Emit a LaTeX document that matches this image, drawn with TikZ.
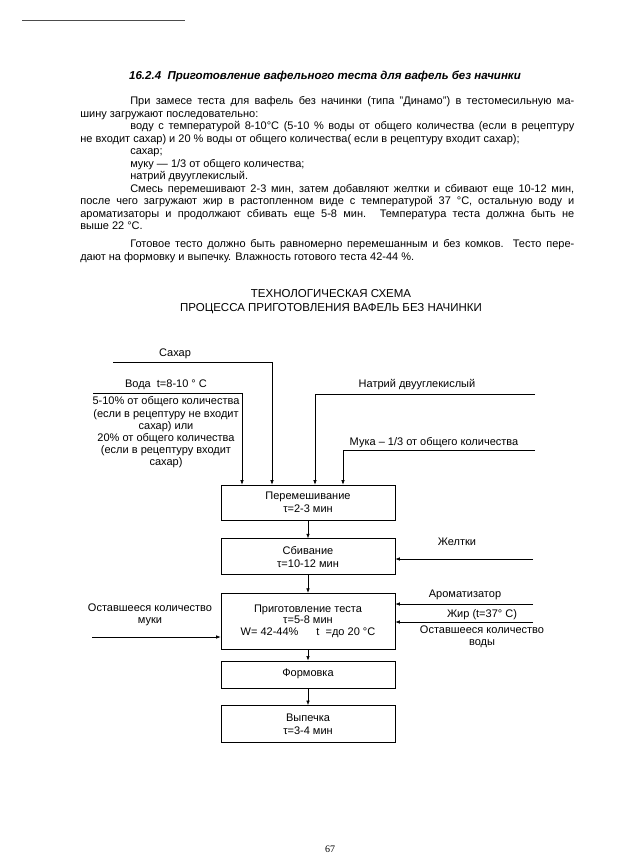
\documentclass[tikz,border=0pt]{standalone}
\usepackage{fontspec}
\setmainfont{Liberation Sans}
\newfontfamily\pagenumfont{Liberation Serif}
\usetikzlibrary{arrows.meta, positioning}

\begin{document}
\begin{tikzpicture}[
  x=1pt, y=-1pt,
  node distance=18pt,
  line width=0.6pt,
  body/.style={inner sep=0pt, anchor=base west, font=\fontsize{11}{12.5}\selectfont},
  lbl/.style={inner sep=0pt, align=center, font=\fontsize{11}{12.2}\selectfont},
  stage/.style={draw, align=center, font=\fontsize{11}{13}\selectfont,
                minimum width=174pt, inner sep=1pt},
  arr/.style={-{Latex[length=4.5pt, width=3.5pt]}}]
\useasboundingbox (0,0) rectangle (623,857);
\draw[line width=1pt, black!70] (22,20) -- (185,20);

% heading and text
\node[font=\fontsize{11.5}{13}\selectfont\bfseries\itshape] (head) at (325,76)
  {16.2.4\ \ Приготовление вафельного теста для вафель без начинки};
\node[body] (p1) at (130,104.5) {\makebox[444pt][s]{При замесе теста для вафель без начинки (типа "Динамо") в тестомесильную ма-}};
\node[body] (p2) at (80,117) {шину загружают последовательно:};
\node[body] (p3) at (130,129.5) {\makebox[444pt][s]{воду с температурой 8-10°C (5-10 \% воды от общего количества (если в рецептуру}};
\node[body] (p4) at (80,142) {не входит сахар) и 20 \% воды от общего количества( если в рецептуру входит сахар);};
\node[body] (p5) at (130,154.5) {сахар;};
\node[body] (p6) at (130,167) {муку — 1/3 от общего количества;};
\node[body] (p7) at (130,179.5) {натрий двууглекислый.};
\node[body] (p8) at (130,192) {\makebox[444pt][s]{Смесь перемешивают 2-3 мин, затем добавляют желтки и сбивают еще 10-12 мин,}};
\node[body] (p9) at (80,204.5) {\makebox[494pt][s]{после чего загружают жир в растопленном виде с температурой 37 °C, остальную воду и}};
\node[body] (p10) at (80,217) {\makebox[494pt][s]{ароматизаторы и продолжают сбивать еще 5-8 мин. Температура теста должна быть не}};
\node[body] (p11) at (80,229.5) {выше 22 °C.};
\node[body] (p12) at (130,247.5) {\makebox[444pt][s]{Готовое тесто должно быть равномерно перемешанным и без комков. Тесто пере-}};
\node[body] (p13) at (80,260) {дают на формовку и выпечку. Влажность готового теста 42-44 \%.};

% scheme
\node[align=center, font=\fontsize{11.5}{14}\selectfont] (title) at (331,301.5)
  {ТЕХНОЛОГИЧЕСКАЯ СХЕМА\\ПРОЦЕССА ПРИГОТОВЛЕНИЯ ВАФЕЛЬ БЕЗ НАЧИНКИ};

\node[stage, minimum height=35pt] (mix) at (308,502.5) {Перемешивание\\τ=2-3 мин};
\node[stage, minimum height=36pt, below=of mix] (whip) {Сбивание\\τ=10-12 мин};
\node[stage, minimum height=56pt, below=of whip, font=\fontsize{11}{11.8}\selectfont] (prep)
  {Приготовление теста\\τ=5-8 мин\\W= 42-44\%\hspace{18pt}t\ \ =до 20 °C};
\node[stage, minimum height=27pt, below=11pt of prep] (form) {Формовка};
\node[stage, minimum height=37pt, below=17pt of form] (bake) {Выпечка\\τ=3-4 мин};

\draw[arr] (mix) -- (whip);
\draw[arr] (whip) -- (prep);
\draw[arr] (prep) -- (form);
\draw[arr] (form) -- (bake);

% inputs
\coordinate (sugarS) at (113,362);
\coordinate (waterS) at (93,393);
\coordinate (sodaS) at (535,394);
\coordinate (flourS) at (535,450);
\coordinate (yolkS) at (533,559);
\coordinate (aromaS) at (533,604);
\coordinate (fatS) at (533,622);
\coordinate (restS) at (92,637);

\node[lbl] (sugar) at (175,354) {Сахар};
\node[lbl] (water) at (166,385) {Вода\ \ t=8-10 ° C};
\node[lbl] (waternote) at (166,432.5) {5-10\% от общего количества\\(если в рецептуру не входит\\сахар) или\\20\% от общего количества\\(если в рецептуру входит\\сахар)};
\node[lbl] (soda) at (417,385) {Натрий двууглекислый};
\node[lbl] (flour) at (434,443) {Мука – 1/3 от общего количества};
\node[lbl] (yolk) at (457,542) {Желтки};
\node[lbl] (aroma) at (465,595) {Ароматизатор};
\node[lbl] (fat) at (482,615) {Жир (t=37° C)};
\node[lbl] (restwater) at (482,637) {Оставшееся количество\\воды};
\node[lbl] (restflour) at (150,614.5) {Оставшееся количество\\муки};

\draw[arr] (waterS) -| ([xshift=-66pt]mix.north);
\draw[arr] (sugarS) -| ([xshift=-36pt]mix.north);
\draw[arr] (sodaS) -| ([xshift=7pt]mix.north);
\draw[arr] (flourS) -| ([xshift=35pt]mix.north);
\draw[arr] (yolkS) -- (yolkS -| whip.east);
\draw[arr] (aromaS) -- (aromaS -| prep.east);
\draw[arr] (fatS) -- (fatS -| prep.east);
\draw[arr] (restS) -- (restS -| prep.west);

\node[font=\pagenumfont\fontsize{10}{12}\selectfont] (page) at (330,849) {67};
\end{tikzpicture}
\end{document}
